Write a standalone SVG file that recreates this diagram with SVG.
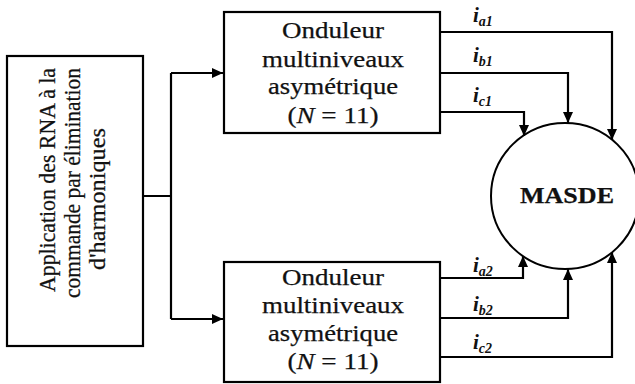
<svg xmlns="http://www.w3.org/2000/svg" width="635" height="384" viewBox="0 0 635 384">
<style>
.box{fill:#fff;stroke:#000;stroke-width:2.2}
.ln{fill:none;stroke:#000;stroke-width:2.2}
.t{font-family:"Liberation Serif","Times New Roman",serif;font-size:23px;fill:#111;stroke:#111;stroke-width:0.25;text-anchor:middle}
.lb{font-family:"Liberation Serif","Times New Roman",serif;font-style:italic;font-weight:bold;fill:#111}
</style>
<defs>
<marker id="ar" markerUnits="userSpaceOnUse" markerWidth="12" markerHeight="10" refX="11" refY="5" orient="auto">
<path d="M0,0 L11,5 L0,10 z" fill="#000"/>
</marker>
</defs>
<g id="rna">
<rect class="box" x="7" y="56" width="136" height="290"/>
<text class="t" transform="translate(55,180) rotate(-90)" textLength="224" lengthAdjust="spacingAndGlyphs">Application des RNA à la</text>
<text class="t" transform="translate(80,183) rotate(-90)" textLength="230" lengthAdjust="spacingAndGlyphs">commande par élimination</text>
<text class="t" transform="translate(105,199) rotate(-90)" textLength="142" lengthAdjust="spacingAndGlyphs">d'harmoniques</text>
</g>
<g id="ond1">
<rect class="box" x="224" y="12" width="216" height="121"/>
<text class="t" x="333" y="38" textLength="102" lengthAdjust="spacingAndGlyphs">Onduleur</text>
<text class="t" x="333" y="67" textLength="142" lengthAdjust="spacingAndGlyphs">multiniveaux</text>
<text class="t" x="333" y="94" textLength="130" lengthAdjust="spacingAndGlyphs">asymétrique</text>
<text class="t" x="333" y="123" textLength="91" lengthAdjust="spacingAndGlyphs">(<tspan font-style="italic">N</tspan> = 11)</text>
</g>
<g id="ond2">
<rect class="box" x="224" y="262" width="216" height="120"/>
<text class="t" x="333" y="285" textLength="102" lengthAdjust="spacingAndGlyphs">Onduleur</text>
<text class="t" x="333" y="313" textLength="142" lengthAdjust="spacingAndGlyphs">multiniveaux</text>
<text class="t" x="333" y="341" textLength="130" lengthAdjust="spacingAndGlyphs">asymétrique</text>
<text class="t" x="333" y="369" textLength="91" lengthAdjust="spacingAndGlyphs">(<tspan font-style="italic">N</tspan> = 11)</text>
</g>
<g id="masde">
<ellipse cx="565" cy="196" rx="74" ry="73" fill="#fff" stroke="#000" stroke-width="2"/>
<text class="t" x="567" y="203" font-weight="bold" textLength="94" lengthAdjust="spacingAndGlyphs">MASDE</text>
</g>
<g id="connectors">
<path class="ln" d="M143,196 H171 M171,73 V319"/>
<path class="ln" d="M171,73 H223" marker-end="url(#ar)"/>
<path class="ln" d="M171,319 H223" marker-end="url(#ar)"/>
<path class="ln" d="M440,32 H612 V140" marker-end="url(#ar)"/>
<path class="ln" d="M440,73 H568 V123" marker-end="url(#ar)"/>
<path class="ln" d="M440,112 H524 V136" marker-end="url(#ar)"/>
<path class="ln" d="M440,278 H523 V256" marker-end="url(#ar)"/>
<path class="ln" d="M440,318 H568 V269" marker-end="url(#ar)"/>
<path class="ln" d="M440,357 H612 V252" marker-end="url(#ar)"/>
</g>
<g id="labels">
<text class="lb" x="473" y="22" font-size="21">i<tspan font-size="14" dy="4">a1</tspan></text>
<text class="lb" x="473" y="62" font-size="21">i<tspan font-size="14" dy="4">b1</tspan></text>
<text class="lb" x="473" y="102" font-size="21">i<tspan font-size="14" dy="4">c1</tspan></text>
<text class="lb" x="473" y="272" font-size="21">i<tspan font-size="14" dy="4">a2</tspan></text>
<text class="lb" x="473" y="311" font-size="21">i<tspan font-size="14" dy="4">b2</tspan></text>
<text class="lb" x="473" y="349" font-size="21">i<tspan font-size="14" dy="4">c2</tspan></text>
</g>
</svg>
